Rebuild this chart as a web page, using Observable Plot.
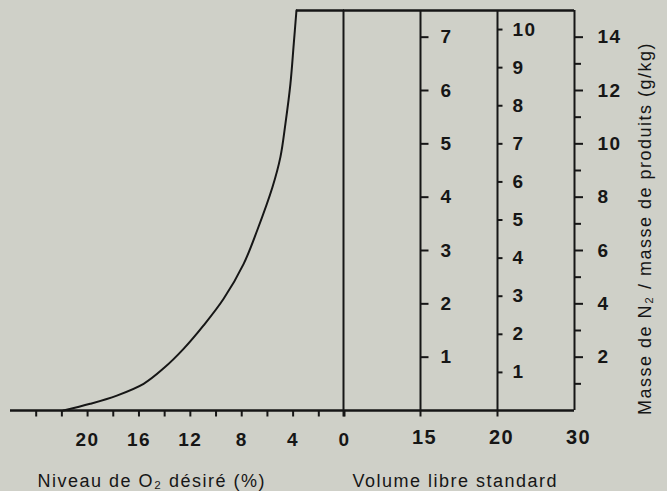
<!DOCTYPE html>
<html><head><meta charset="utf-8">
<script src="https://cdn.jsdelivr.net/npm/d3@7"></script>
<script src="https://cdn.jsdelivr.net/npm/@observablehq/plot@0.6"></script>
<style>
html,body{margin:0;padding:0;background:#cfd0c8;}
#chart{position:relative;width:667px;height:491px;background:#cfd0c8;overflow:hidden;}
#chart svg{position:absolute;left:0;top:0;}
</style></head><body><div id="chart"></div>
<script>
// Curve: desired O2 level (%) vs mass of N2 / mass of product (g/kg)
const o2Curve = [21.88, 19.8, 17.72, 15.64, 14.08, 12.53, 10.97, 9.41, 7.85, 6.8, 5.61, 4.99, 4.6, 4.21, 3.95, 3.74];
const n2Curve = [0, 0.25, 0.56, 1.0, 1.58, 2.31, 3.19, 4.19, 5.5, 6.75, 8.37, 9.5, 10.75, 12.25, 13.75, 15];
// O2 axis
const o2Ticks = [0, 2, 4, 6, 8, 10, 12, 14, 16, 18, 20, 22, 24];
const o2Labels = [0, 4, 8, 12, 16, 20];
// Standard free volume scales
const volumes = ["0", "15", "20", "30"];
const volumeTickMarks = ["0", "15", "20"];
const volumeLabels = ["15", "20", "30"];
const scale15 = [1, 2, 3, 4, 5, 6, 7];
const scale20 = [1, 2, 3, 4, 5, 6, 7, 8, 9, 10];
const n2PerUnit15 = 2;      // g/kg per graduation on the 15 scale
const n2PerUnit20 = 10 / 7; // g/kg per graduation on the 20 scale
// N2 mass axis (g/kg)
const n2Major = [2, 4, 6, 8, 10, 12, 14];
const n2Minor = [1, 3, 5, 7, 9, 11, 13];
const n2Max = 15;
// Titles
const titleO2 = "Niveau de O₂ désiré (%)";
const titleVolume = "Volume libre standard";
const titleN2 = "Masse de N₂ / masse de produits (g/kg)";

const curve = o2Curve.map((o2, i) => ({o2, n2: n2Curve[i]}));

const ink = "#161616";
// tick-mark symbols: a straight stroke of length r, to the right or downward
const tickRight = {draw(ctx, size) { const l = Math.sqrt(size / Math.PI); ctx.moveTo(0, 0); ctx.lineTo(l, 0); }};
const tickDown = {draw(ctx, size) { const l = Math.sqrt(size / Math.PI); ctx.moveTo(0, 0); ctx.lineTo(0, l); }};
const tickStyle = {fill: "none", stroke: ink, strokeWidth: 2};

const common = {
  width: 667, height: 491, marginTop: 10, marginBottom: 81,
  y: {domain: [0, n2Max], axis: null},
  style: {background: "transparent", color: ink, fontFamily: "'Liberation Sans', Arial, sans-serif", fontSize: "19px", letterSpacing: "1.5px"}
};

const left = Plot.plot({
  ...common,
  marginLeft: 10, marginRight: 323,
  x: {domain: [26, 0], axis: null},
  marks: [
    Plot.ruleY([0], {strokeWidth: 2.5}),
    Plot.dot(o2Ticks, {x: d => d, y: () => 0, symbol: tickDown, r: 6, ...tickStyle}),
    Plot.axisX({ticks: o2Labels, tickSize: 0, tickPadding: 22, fontSize: 19, fontWeight: "bold", label: null}),
    Plot.line(curve, {x: "o2", y: "n2", curve: "catmull-rom", strokeWidth: 2}),
    Plot.ruleY([n2Max], {x1: o2Curve[o2Curve.length - 1], x2: 0, strokeWidth: 2.5}),
    Plot.text([titleO2], {frameAnchor: "bottom-left", dx: 27, dy: 76, textAnchor: "start", lineAnchor: "bottom", fontSize: 18})
  ]
});

const right = Plot.plot({
  ...common,
  marginLeft: 343, marginRight: 93,
  x: {type: "point", domain: volumes, padding: 0, axis: null},
  marks: [
    Plot.ruleY([0, n2Max], {strokeWidth: 2.5}),
    Plot.ruleX(volumes, {x: d => d, strokeWidth: 2}),
    Plot.dot(volumeTickMarks, {x: d => d, y: () => 0, symbol: tickDown, r: 6, ...tickStyle}),
    Plot.text(volumeLabels, {x: d => d, text: d => d, frameAnchor: "bottom", dy: 33, dx: 4, lineAnchor: "bottom", fontSize: 20, fontWeight: "bold", ariaLabel: "volume labels"}),
    Plot.dot(scale15, {x: () => "15", y: v => v * n2PerUnit15, symbol: tickRight, r: 8, ...tickStyle}),
    Plot.text(scale15, {x: () => "15", y: v => v * n2PerUnit15, text: d => String(d), dx: 20, textAnchor: "start", fontSize: 19, fontWeight: "bold"}),
    Plot.dot(scale20, {x: () => "20", y: v => v * n2PerUnit20, symbol: tickRight, r: 5, ...tickStyle}),
    Plot.text(scale20, {x: () => "20", y: v => v * n2PerUnit20, text: d => String(d), dx: 15, textAnchor: "start", fontSize: 19, fontWeight: "bold"}),
    Plot.axisY({anchor: "right", ticks: n2Major, tickSize: 8, tickPadding: 15, strokeWidth: 2, fontSize: 19, fontWeight: "bold", label: null}),
    Plot.axisY({anchor: "right", ticks: n2Minor, tickSize: 6, strokeWidth: 2, tickFormat: () => "", label: null}),
    Plot.text([titleVolume], {frameAnchor: "bottom-left", dx: 9, dy: 76, textAnchor: "start", lineAnchor: "bottom", fontSize: 18}),
    Plot.text([titleN2], {frameAnchor: "right", rotate: -90, dx: 71, dy: 18, textAnchor: "middle", fontSize: 18})
  ]
});

d3.select(right).selectAll('g[aria-label="volume labels"]').style("letter-spacing", "8px");

const chart = document.getElementById("chart");
chart.appendChild(left);
chart.appendChild(right);
</script>
</body></html>
